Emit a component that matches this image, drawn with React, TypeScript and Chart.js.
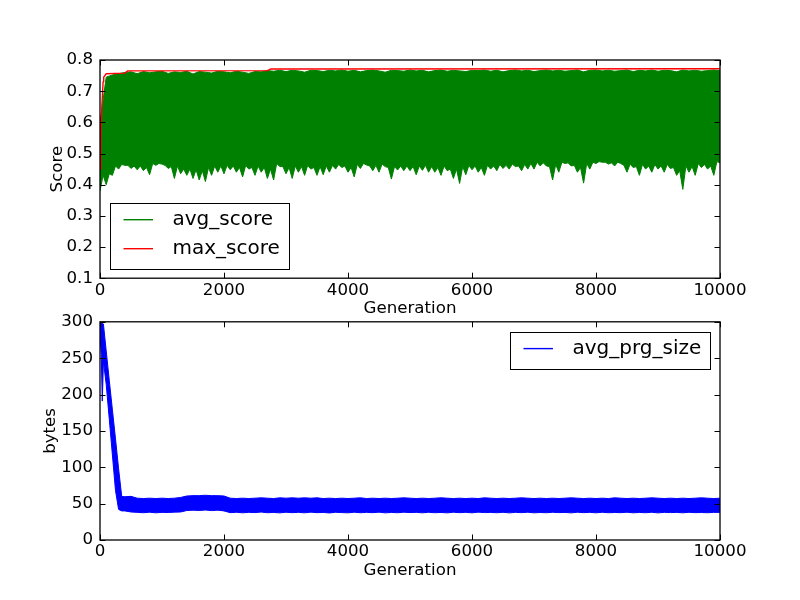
import { useEffect, useRef } from 'react';
import { Chart, registerables } from 'chart.js';

Chart.register(...registerables);

const FONT = '"DejaVu Sans", sans-serif';
const TICK_PX = 16.67;
const LEGEND_PX = 20;

// tick labels
const genTicks = [0, 2000, 4000, 6000, 8000, 10000];
const scoreTicks = [0.1, 0.2, 0.3, 0.4, 0.5, 0.6, 0.7, 0.8];
const bytesTicks = [0, 50, 100, 150, 200, 250, 300];

// noisy series are stored as their upper / lower envelope, one value per 100 generations
const genStep = 100;

const maxScoreGen = [0, 15, 30, 50, 60, 100, 400, 450, 2700, 2750, 10000];
const maxScore = [0.45, 0.53, 0.65, 0.73, 0.745, 0.756, 0.758, 0.765, 0.766, 0.771, 0.772];

// gens 0 .. 10000
const avgScoreHigh = [
  0.6, 0.745, 0.752, 0.756, 0.76, 0.762, 0.756, 0.763, 0.759, 0.762,
  0.764, 0.757, 0.762, 0.76, 0.764, 0.755, 0.763, 0.761, 0.758, 0.764,
  0.762, 0.759, 0.764, 0.761, 0.757, 0.763, 0.762, 0.766, 0.764, 0.767,
  0.763, 0.767, 0.765, 0.761, 0.767, 0.766, 0.763, 0.767, 0.765, 0.768,
  0.764, 0.767, 0.762, 0.766, 0.768, 0.765, 0.761, 0.767, 0.766, 0.764,
  0.768, 0.765, 0.767, 0.762, 0.766, 0.768, 0.764, 0.767, 0.765, 0.763,
  0.767, 0.766, 0.768, 0.764, 0.767, 0.762, 0.766, 0.768, 0.765, 0.767,
  0.763, 0.766, 0.768, 0.765, 0.767, 0.764, 0.766, 0.768, 0.762, 0.767,
  0.768, 0.765, 0.767, 0.764, 0.766, 0.768, 0.763, 0.767, 0.765, 0.768,
  0.764, 0.767, 0.766, 0.762, 0.768, 0.765, 0.767, 0.764, 0.766, 0.768,
  0.766,
];
// deepest dips, gens 0 .. 10000
const avgScoreLow = [
  0.38,
  0.4, 0.43, 0.45, 0.462, 0.452, 0.448, 0.445, 0.432, 0.462, 0.466,
  0.452, 0.42, 0.435, 0.43, 0.42, 0.415, 0.41, 0.43, 0.44, 0.435,
  0.448, 0.44, 0.425, 0.45, 0.43, 0.44, 0.42, 0.415, 0.458, 0.435,
  0.42, 0.44, 0.43, 0.45, 0.43, 0.432, 0.44, 0.45, 0.455, 0.44,
  0.425, 0.452, 0.463, 0.445, 0.44, 0.458, 0.418, 0.447, 0.445, 0.445,
  0.432, 0.446, 0.44, 0.44, 0.43, 0.445, 0.42, 0.404, 0.432, 0.448,
  0.44, 0.43, 0.45, 0.445, 0.452, 0.45, 0.458, 0.445, 0.45, 0.45,
  0.46, 0.46, 0.415, 0.44, 0.468, 0.46, 0.44, 0.405, 0.45, 0.468,
  0.472, 0.466, 0.46, 0.468, 0.44, 0.455, 0.43, 0.45, 0.44, 0.45,
  0.44, 0.452, 0.43, 0.385, 0.44, 0.43, 0.455, 0.45, 0.43, 0.47,
];
// solid lower edge between the dips, gens 50 .. 9950
const avgScoreBulk = [
  0.43, 0.435, 0.46, 0.465, 0.462, 0.46, 0.46, 0.455, 0.468, 0.468,
  0.462, 0.458, 0.46, 0.45, 0.45, 0.448, 0.445, 0.455, 0.46, 0.46,
  0.462, 0.46, 0.455, 0.462, 0.455, 0.46, 0.455, 0.45, 0.468, 0.458,
  0.455, 0.46, 0.458, 0.462, 0.455, 0.458, 0.46, 0.462, 0.465, 0.46,
  0.455, 0.465, 0.468, 0.46, 0.462, 0.466, 0.455, 0.458, 0.46, 0.46,
  0.458, 0.46, 0.462, 0.458, 0.455, 0.46, 0.45, 0.45, 0.458, 0.462,
  0.46, 0.455, 0.462, 0.46, 0.465, 0.462, 0.466, 0.46, 0.465, 0.468,
  0.472, 0.47, 0.458, 0.465, 0.472, 0.47, 0.462, 0.455, 0.468, 0.472,
  0.474, 0.472, 0.47, 0.472, 0.462, 0.466, 0.458, 0.465, 0.46, 0.465,
  0.46, 0.465, 0.455, 0.445, 0.46, 0.458, 0.468, 0.465, 0.46, 0.474,
];

// program size: steep start read at irregular gens, then every 100 from gen 400
const prgEarlyGen = [0, 20, 37, 55, 100, 150, 200, 250, 300, 350];
const prgEarlyHigh = [296, 298, 298, 297, 260, 219, 179, 139, 98, 60];
const prgEarlyLow = [282, 255, 191, 246, 214, 166, 117, 68, 42, 40];
const prgHigh = [
  59.5, 60, 57.5, 57, 57.5, 57, 57.5, 57, 57.5, 58.5,
  60.5, 61, 61, 61.5, 61, 61, 60.5, 57.5, 57, 57.5,
  57, 57.5, 58, 57.5, 57, 58, 57.5, 58, 57.5, 58,
  57.5, 58, 57, 57.5, 57, 57.5, 57, 57.5, 58, 57,
  57.5, 57, 57.5, 57, 57.5, 58, 57.5, 57, 57.5, 57,
  57.5, 58, 57.5, 57, 57.5, 57, 57.5, 57, 58, 57.5,
  57, 57.5, 57, 57.5, 58, 57.5, 57, 57.5, 57, 57.5,
  57, 57.5, 58, 57.5, 57, 57.5, 57, 57.5, 57, 58,
  57.5, 57, 57.5, 57, 57.5, 58, 57.5, 57, 57.5, 57,
  57.5, 57, 57.5, 58, 57.5, 57, 57.5,
];
const prgLow = [
  40, 38.5, 38, 37.5, 38.2, 37.4, 38, 37.8, 38.3, 38.5,
  40.5, 41, 40.6, 41.2, 40.4, 41, 40, 37.6, 38.1, 37.4,
  38, 37.7, 38.4, 37.5, 37.9, 37.3, 38.2, 37.6, 38, 37.4,
  38.3, 37.6, 37.9, 37.2, 38.1, 37.7, 37.4, 38.2, 37.5, 38,
  37.6, 38.3, 37.3, 37.9, 37.5, 38.2, 37.7, 38, 37.4, 38.1,
  37.5, 37.9, 37.3, 38.2, 37.6, 38, 37.4, 38.3, 37.7, 37.9,
  37.5, 38.1, 37.3, 38, 37.6, 38.2, 37.4, 37.8, 37.5, 38.1,
  37.7, 37.9, 37.3, 38.2, 37.6, 38, 37.4, 38.1, 37.5, 37.8,
  37.6, 38.2, 37.4, 37.9, 37.5, 38.1, 37.3, 38, 37.7, 37.9,
  37.4, 38.1, 37.6, 37.8, 37.5, 38, 37.9,
];

const pts = (xs: number[], ys: number[]) => ys.map((y, i) => ({ x: xs[i], y }));
const stepGens = (n: number, start: number) => Array.from({ length: n }, (_, i) => start + i * genStep);

// dips on the step gens, solid edge half a step later
function lowerEdge() {
  const out: { x: number; y: number }[] = [];
  avgScoreLow.forEach((y, i) => {
    out.push({ x: i * genStep, y });
    if (i < avgScoreBulk.length) out.push({ x: i * genStep + genStep / 2, y: avgScoreBulk[i] });
  });
  return out;
}

const tickFont = { family: FONT, size: TICK_PX };

function xAxis() {
  return {
    type: 'linear',
    min: genTicks[0],
    max: genTicks[genTicks.length - 1],
    afterBuildTicks: (s: any) => { s.ticks = genTicks.map((value) => ({ value })); },
    afterFit: (s: any) => { s.height = 42; },
    ticks: { font: tickFont, color: '#000', padding: 2, maxRotation: 0, autoSkip: false, callback: (v: any) => String(v) },
    grid: { display: false, drawTicks: false },
    border: { display: false },
    title: { display: true, text: 'Generation', font: tickFont, color: '#000', padding: { top: 0, bottom: 1.5 } },
  };
}

function yAxis(title: string, ticks: number[], fmt: (v: number) => string, titlePad: number) {
  return {
    type: 'linear',
    min: ticks[0],
    max: ticks[ticks.length - 1],
    afterBuildTicks: (s: any) => { s.ticks = ticks.map((value) => ({ value })); },
    afterFit: (s: any) => { s.width = 100; },
    ticks: { font: tickFont, color: '#000', padding: 7, autoSkip: false, callback: (v: any) => fmt(Number(v)) },
    grid: { display: false, drawTicks: false },
    border: { display: false },
    title: { display: true, text: title, font: tickFont, color: '#000', padding: { top: titlePad, bottom: 0 } },
  };
}

// matplotlib-style box with inward ticks on all four sides
const framePlugin = {
  id: 'mplFrame',
  afterDraw(chart: any) {
    const { ctx, chartArea: a, scales } = chart;
    const tl = 5.5;
    ctx.save();
    ctx.strokeStyle = '#000';
    ctx.lineWidth = 1;
    ctx.beginPath();
    for (const t of scales.x.ticks) {
      const px = Math.round(scales.x.getPixelForValue(t.value)) + 0.5;
      ctx.moveTo(px, a.bottom); ctx.lineTo(px, a.bottom - tl);
      ctx.moveTo(px, a.top); ctx.lineTo(px, a.top + tl);
    }
    for (const t of scales.y.ticks) {
      const py = Math.round(scales.y.getPixelForValue(t.value)) + 0.5;
      ctx.moveTo(a.left, py); ctx.lineTo(a.left + tl, py);
      ctx.moveTo(a.right, py); ctx.lineTo(a.right - tl, py);
    }
    ctx.stroke();
    ctx.lineWidth = 1.3;
    ctx.strokeRect(a.left, a.top, a.right - a.left, a.bottom - a.top);
    ctx.restore();
  },
};

// legend box inside the axes; datasets whose label starts with "_" are skipped
const boxLegendPlugin = {
  id: 'boxLegend',
  afterDraw(chart: any, _args: any, opts: any) {
    const items = chart.data.datasets.filter((d: any) => !String(d.label).startsWith('_'));
    const { ctx, chartArea: a } = chart;
    ctx.save();
    ctx.font = `${LEGEND_PX}px ${FONT}`;
    const textW = Math.max(...items.map((d: any) => ctx.measureText(d.label).width));
    const w = 13.5 + 29.5 + 19.5 + textW + 9;
    const h = 16.5 + 29 * (items.length - 1) + 20;
    const upper = opts.loc === 'upper right';
    const left = upper ? a.right - 9.7 - w : a.left + 10;
    const top = upper ? a.top + 10.3 : a.bottom - 9.5 - h;
    ctx.fillStyle = '#fff';
    ctx.fillRect(left, top, w, h);
    ctx.strokeStyle = '#000';
    ctx.lineWidth = 1;
    ctx.strokeRect(Math.round(left) + 0.5, Math.round(top) + 0.5, Math.round(w), Math.round(h));
    items.forEach((d: any, i: number) => {
      const y = top + 16.5 + 29 * i;
      ctx.strokeStyle = d.borderColor;
      ctx.lineWidth = 1.4;
      ctx.beginPath();
      ctx.moveTo(left + 13.5, y);
      ctx.lineTo(left + 43, y);
      ctx.stroke();
      ctx.fillStyle = '#000';
      ctx.textBaseline = 'middle';
      ctx.fillText(d.label, left + 62.5, y);
    });
    ctx.restore();
  },
};

const lineBase = { pointRadius: 0, borderWidth: 1, tension: 0, borderJoinStyle: 'round' };

function scoreConfig(): any {
  const gens = stepGens(avgScoreHigh.length, 0);
  return {
    type: 'line',
    data: {
      datasets: [
        { ...lineBase, label: 'avg_score', data: pts(gens, avgScoreHigh), borderColor: '#008000', backgroundColor: '#008000', fill: '+1', order: 1 },
        { ...lineBase, label: '_avg_low', data: lowerEdge(), borderColor: '#008000', fill: false, order: 1 },
        { ...lineBase, label: 'max_score', data: pts(maxScoreGen, maxScore), borderColor: '#ff0000', borderWidth: 1.4, fill: false, order: 0 },
      ],
    },
    options: {
      animation: false,
      responsive: false,
      events: [],
      layout: { padding: { left: 0, right: 80, top: 60, bottom: 279.8 } },
      scales: { x: xAxis(), y: yAxis('Score', scoreTicks, (v) => v.toFixed(1), 47.5) },
      plugins: { legend: { display: false }, tooltip: { enabled: false }, boxLegend: { loc: 'lower left' } },
    },
    plugins: [framePlugin, boxLegendPlugin],
  };
}

function sizeConfig(): any {
  const gens = [...prgEarlyGen, ...stepGens(prgHigh.length, 400)];
  return {
    type: 'line',
    data: {
      datasets: [
        { ...lineBase, label: 'avg_prg_size', data: pts(gens, [...prgEarlyHigh, ...prgHigh]), borderColor: '#0000ff', backgroundColor: '#0000ff', fill: '+1' },
        { ...lineBase, label: '_prg_low', data: pts(gens, [...prgEarlyLow, ...prgLow]), borderColor: '#0000ff', fill: false },
      ],
    },
    options: {
      animation: false,
      responsive: false,
      events: [],
      layout: { padding: { left: 0, right: 80, top: 321.8, bottom: 18 } },
      scales: { x: xAxis(), y: yAxis('bytes', bytesTicks, (v) => String(v), 41) },
      plugins: { legend: { display: false }, tooltip: { enabled: false }, boxLegend: { loc: 'upper right' } },
    },
    plugins: [framePlugin, boxLegendPlugin],
  };
}

function Panel({ build }: { build: () => any }) {
  const ref = useRef<HTMLCanvasElement>(null);
  useEffect(() => {
    if (!ref.current) return;
    const chart = new Chart(ref.current, build());
    return () => chart.destroy();
  }, [build]);
  return <canvas ref={ref} width={800} height={600} style={{ position: 'absolute', left: 0, top: 0 }} />;
}

export default function App() {
  return (
    <div style={{ position: 'absolute', left: 0, top: 0, width: 800, height: 600, background: '#fff' }}>
      <Panel build={scoreConfig} />
      <Panel build={sizeConfig} />
    </div>
  );
}
